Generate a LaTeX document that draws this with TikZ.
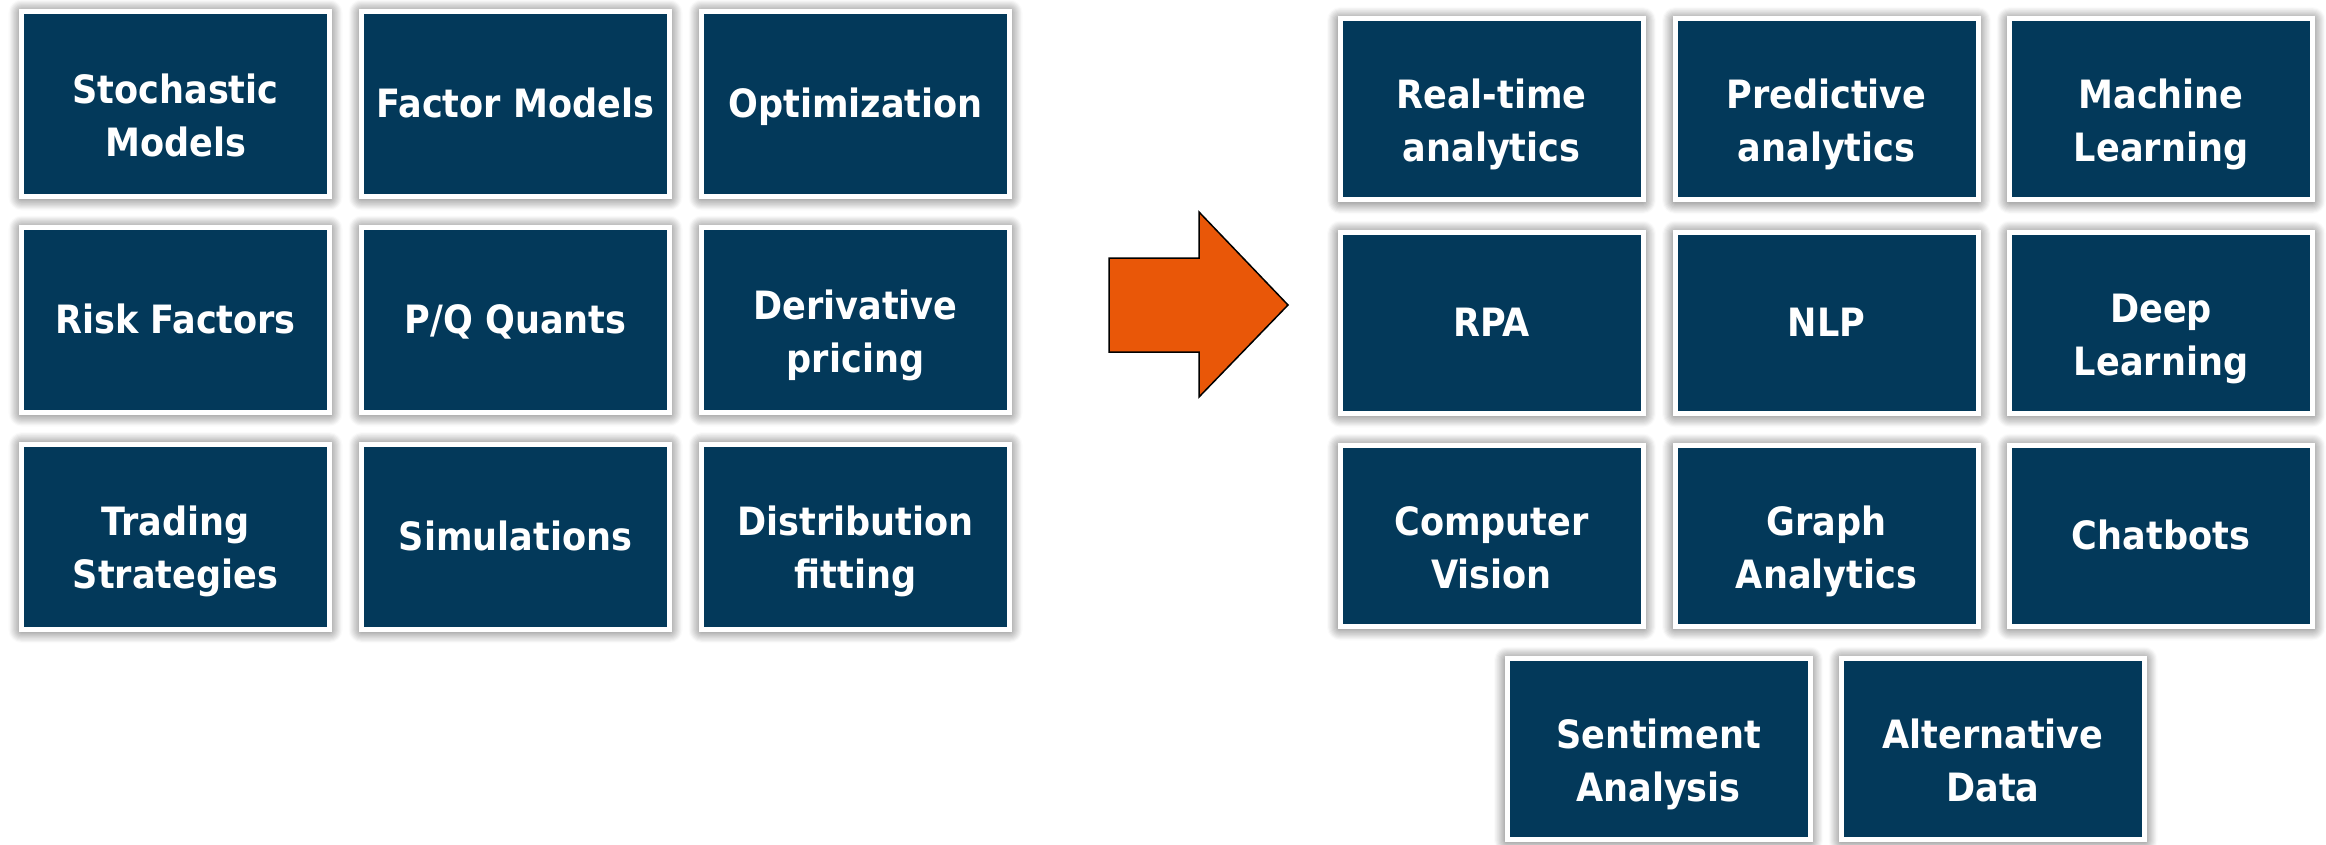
\documentclass[tikz,border=0pt]{standalone}
\usepackage{fontspec}
\newfontfamily\boxfont{DejaVu Sans Condensed}[BoldFont={DejaVu Sans Condensed Bold}]
\usetikzlibrary{shadows.blur}
\definecolor{navy}{RGB}{3,57,90}
\definecolor{orng}{RGB}{233,87,8}
\definecolor{edgeblue}{RGB}{95,135,165}
\tikzset{
  boxL/.style={fill=navy, draw=white, line width=5pt, minimum width=308pt, minimum height=185pt, inner sep=0pt,
    blur shadow={shadow xshift=0pt, shadow yshift=-1pt, shadow blur radius=13pt, shadow blur steps=12, shadow opacity=75},
    append after command={
      \pgfextra{\draw[edgeblue, line width=1pt]
        ([xshift=3pt,yshift=-3pt]\tikzlastnode.north west) rectangle
        ([xshift=-3pt,yshift=3pt]\tikzlastnode.south east);}}},
  boxR/.style={boxL, minimum width=303pt, minimum height=181pt},
  lbl/.style={text=white, font=\boxfont\bfseries\fontsize{39}{53}\selectfont, align=center, inner sep=0pt},
  arrowshape/.style={fill=orng, draw=black, line width=1.5pt, line join=miter},
}
\newcommand\lst{\strut}
\begin{document}
\begin{tikzpicture}[x=1pt,y=-1pt]
\useasboundingbox (0,0) rectangle (2326,845);
% left grid
\node[boxL] (l11) at (175.5,104) {};
\node[boxL] (l12) at (515.5,104) {};
\node[boxL] (l13) at (855.5,104) {};
\node[boxL] (l21) at (175.5,320) {};
\node[boxL] (l22) at (515.5,320) {};
\node[boxL] (l23) at (855.5,320) {};
\node[boxL] (l31) at (175.5,536.5) {};
\node[boxL] (l32) at (515.5,536.5) {};
\node[boxL] (l33) at (855.5,536.5) {};
\node[lbl] (t11) at ([yshift=-15pt]l11.center) {\lst Stochastic\\\lst Models};
\node[lbl] (t12) at ([yshift=-3pt]l12.center) {\lst Factor Models};
\node[lbl] (t13) at ([yshift=-3pt]l13.center) {\lst Optimization};
\node[lbl] (t21) at ([yshift=-3pt]l21.center) {\lst Risk Factors};
\node[lbl] (t22) at ([yshift=-3pt]l22.center) {\lst P/Q Quants};
\node[lbl] (t23) at ([yshift=-15pt]l23.center) {\lst Derivative\\\lst pricing};
\node[lbl] (t31) at ([yshift=-15pt]l31.center) {\lst Trading\\\lst Strategies};
\node[lbl] (t32) at ([yshift=-3pt]l32.center) {\lst Simulations};
\node[lbl] (t33) at ([yshift=-15pt]l33.center) {\lst Distribution\\\lst fitting};
% arrow
\path[arrowshape] (1109,258) -- (1199,258) -- (1199,212) -- (1288,305) -- (1199,397) -- (1199,352) -- (1109,352) -- cycle;
% right grid
\node[boxR] (r11) at (1491.5,109.5) {};
\node[boxR] (r12) at (1826.5,109.5) {};
\node[boxR] (r13) at (2161,109.5) {};
\node[boxR] (r21) at (1491.5,323) {};
\node[boxR] (r22) at (1826.5,323) {};
\node[boxR] (r23) at (2161,323) {};
\node[boxR] (r31) at (1491.5,536) {};
\node[boxR] (r32) at (1826.5,536) {};
\node[boxR] (r33) at (2161,536) {};
\node[boxR] (r41) at (1658.5,749) {};
\node[boxR] (r42) at (1993,749) {};
\node[lbl] (s11) at ([yshift=-15pt]r11.center) {\lst Real-time\\\lst analytics};
\node[lbl] (s12) at ([yshift=-15pt]r12.center) {\lst Predictive\\\lst analytics};
\node[lbl] (s13) at ([yshift=-15pt]r13.center) {\lst Machine\\\lst Learning};
\node[lbl] (s21) at ([yshift=-3pt]r21.center) {\lst RPA};
\node[lbl] (s22) at ([yshift=-3pt]r22.center) {\lst NLP};
\node[lbl] (s23) at ([yshift=-15pt]r23.center) {\lst Deep\\\lst Learning};
\node[lbl] (s31) at ([yshift=-15pt]r31.center) {\lst Computer\\\lst Vision};
\node[lbl] (s32) at ([yshift=-15pt]r32.center) {\lst Graph\\\lst Analytics};
\node[lbl] (s33) at ([yshift=-3pt]r33.center) {\lst Chatbots};
\node[lbl] (s41) at ([yshift=-15pt]r41.center) {\lst Sentiment\\\lst Analysis};
\node[lbl] (s42) at ([yshift=-15pt]r42.center) {\lst Alternative\\\lst Data};
\end{tikzpicture}
\end{document}
